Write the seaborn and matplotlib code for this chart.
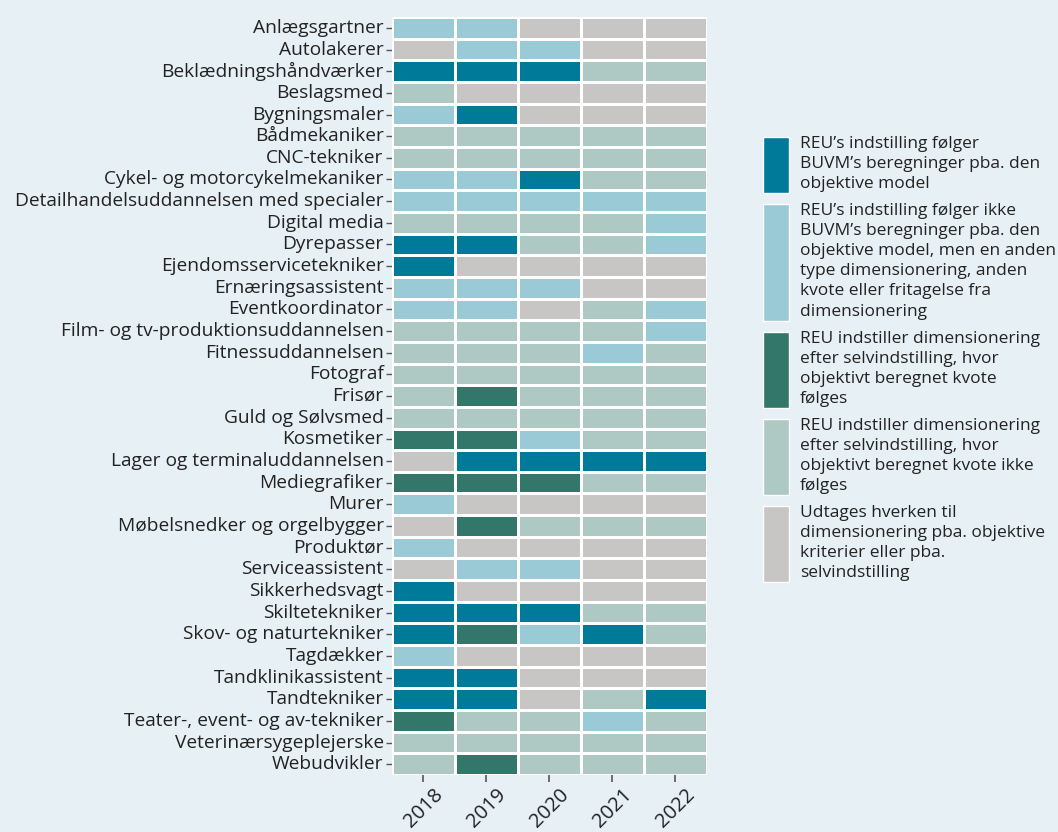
import numpy as np
import pandas as pd
import seaborn as sns
import matplotlib
import matplotlib.pyplot as plt
from matplotlib.colors import ListedColormap
from matplotlib.patches import Rectangle

sns.set_theme(style='white')
plt.rcParams['font.family'] = ['Open Sans', 'DejaVu Sans']

# uddannelser og år
uddannelser = ['Anlægsgartner', 'Autolakerer', 'Beklædningshåndværker', 'Beslagsmed',
               'Bygningsmaler', 'Bådmekaniker', 'CNC-tekniker', 'Cykel- og motorcykelmekaniker',
               'Detailhandelsuddannelsen med specialer', 'Digital media', 'Dyrepasser',
               'Ejendomsservicetekniker', 'Ernæringsassistent', 'Eventkoordinator',
               'Film- og tv-produktionsuddannelsen', 'Fitnessuddannelsen', 'Fotograf', 'Frisør',
               'Guld og Sølvsmed', 'Kosmetiker', 'Lager og terminaluddannelsen', 'Mediegrafiker',
               'Murer', 'Møbelsnedker og orgelbygger', 'Produktør', 'Serviceassistent',
               'Sikkerhedsvagt', 'Skiltetekniker', 'Skov- og naturtekniker', 'Tagdækker',
               'Tandklinikassistent', 'Tandtekniker', 'Teater-, event- og av-tekniker',
               'Veterinærsygeplejerske', 'Webudvikler']
aar = ['2018', '2019', '2020', '2021', '2022']

# kategori 1-5 (se legend)
y2018 = [2, 5, 1, 4, 2, 4, 4, 2, 2, 4, 1, 1, 2, 2, 4, 4, 4, 4, 4, 3, 5, 3, 2, 5, 2, 5, 1, 1, 1, 2, 1, 1, 3, 4, 4]
y2019 = [2, 2, 1, 5, 1, 4, 4, 2, 2, 4, 1, 5, 2, 2, 4, 4, 4, 3, 4, 3, 1, 3, 5, 3, 5, 2, 5, 1, 3, 5, 1, 1, 4, 4, 3]
y2020 = [5, 2, 1, 5, 5, 4, 4, 1, 2, 4, 4, 5, 2, 5, 4, 4, 4, 4, 4, 2, 1, 3, 5, 4, 5, 2, 5, 1, 2, 5, 5, 5, 4, 4, 4]
y2021 = [5, 5, 4, 5, 5, 4, 4, 4, 2, 4, 4, 5, 5, 4, 4, 2, 4, 4, 4, 4, 1, 4, 5, 4, 5, 5, 5, 4, 1, 5, 5, 4, 2, 4, 4]
y2022 = [5, 5, 4, 5, 5, 4, 4, 4, 2, 2, 2, 5, 5, 2, 2, 4, 4, 4, 4, 4, 1, 4, 5, 4, 5, 5, 5, 4, 4, 5, 5, 1, 4, 4, 4]

farver = ['#007a99', '#9bcad7', '#33776b', '#aec8c3', '#c8c6c4']
kategorier = [
    'REU’s indstilling følger\nBUVM’s beregninger pba. den\nobjektive model',
    'REU’s indstilling følger ikke\nBUVM’s beregninger pba. den\nobjektive model, men en anden\n'
    'type dimensionering, anden\nkvote eller fritagelse fra\ndimensionering',
    'REU indstiller dimensionering\nefter selvindstilling, hvor\nobjektivt beregnet kvote\nfølges',
    'REU indstiller dimensionering\nefter selvindstilling, hvor\nobjektivt beregnet kvote ikke\nfølges',
    'Udtages hverken til\ndimensionering pba. objektive\nkriterier eller pba.\nselvindstilling',
]

df = pd.DataFrame({'2018': y2018, '2019': y2019, '2020': y2020, '2021': y2021, '2022': y2022},
                  index=uddannelser)[aar]

bg = '#e6f0f5'
fig = plt.figure(figsize=(10.58, 8.32), dpi=100, facecolor=bg)
ax = fig.add_axes([0.3705, 0.0685, 0.2975, 0.911])
ax.set_facecolor(bg)

sns.heatmap(df, cmap=ListedColormap(farver), vmin=0.5, vmax=5.5, cbar=False,
            linewidths=0.9, linecolor='white', ax=ax)

ax.set_yticks(np.arange(len(uddannelser)) + 0.5)
ax.set_yticklabels(uddannelser, rotation=0, fontsize=13.8, color='#222222')
ax.set_xticklabels(aar, rotation=45, fontsize=14.5, color='#222222')
ax.tick_params(axis='y', length=4, width=1, color='#555555', left=True, pad=2)
ax.tick_params(axis='x', length=5, width=1.2, color='#555555', bottom=True, pad=2)
ax.set_xlabel('')
ax.set_ylabel('')

# legend
fig.canvas.draw()
renderer = fig.canvas.get_renderer()
W, H = fig.get_size_inches() * fig.dpi
y = 1 - 137 / H
for farve, tekst in zip(farver, kategorier):
    t = fig.text(800 / W, y + 1 / H, tekst, fontsize=12.5, color='#222222', va='top', ha='left',
                 linespacing=1.34)
    bb = t.get_window_extent(renderer)
    top = y
    bottom = bb.y0 / H - 1 / H
    fig.add_artist(Rectangle((763 / W, bottom), 26 / W, top - bottom, transform=fig.transFigure,
                             facecolor=farve, edgecolor='white', linewidth=1))
    y = bottom - 11 / H

fig.savefig('out.png', dpi=100, facecolor=bg)
